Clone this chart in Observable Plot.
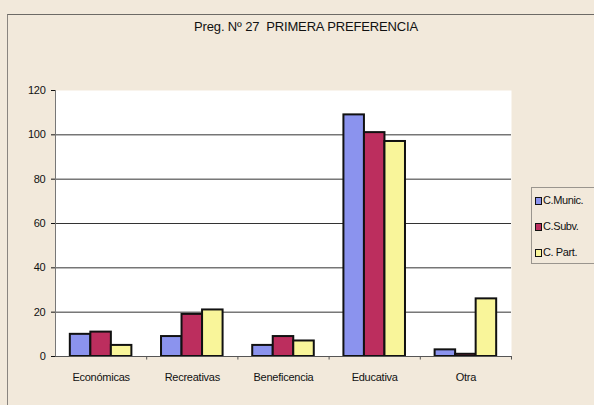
<!DOCTYPE html>
<html>
<head>
<meta charset="utf-8">
<script src="https://cdn.jsdelivr.net/npm/d3@7"></script>
<script src="https://cdn.jsdelivr.net/npm/@observablehq/plot@0.6"></script>
<style>
  html, body { margin: 0; padding: 0; background: #f2e9db; }
  #wrap { position: relative; width: 594px; height: 405px; overflow: hidden; background: #f2e9db; }
  #border { position: absolute; left: 7px; top: 14px; width: 600px; height: 400px; border-left: 1px solid #8a8580; border-top: 1px solid #6d6a66; }
  #title { position: absolute; left: 156px; width: 300px; top: 19px; text-align: center;
    font: 13px "Liberation Sans Narrow", "Liberation Sans", Arial, sans-serif; letter-spacing: -0.15px; color: #111; }
  #chart { position: absolute; left: 0; top: 0; }
  #legend { position: absolute; left: 531px; top: 187px; width: 70px; height: 75px; border: 1px solid #9a958e;
    font: 11px "Liberation Sans Narrow", "Liberation Sans", Arial, sans-serif; letter-spacing: -0.4px; color: #111; }
  .item { position: absolute; left: 3px; height: 12px; line-height: 12px; white-space: nowrap; }
  .sw { display: inline-block; width: 5px; height: 6px; border: 1.5px solid #111; vertical-align: -1px; margin-right: 1px; }
  svg text { font-family: "Liberation Sans Narrow", "Liberation Sans", Arial, sans-serif; letter-spacing: -0.25px; fill: #111; }
</style>
</head>
<body>
<div id="wrap">
  <div id="border"></div>
  <div id="chart"></div>
  <div id="title">Preg. Nº 27&nbsp; PRIMERA PREFERENCIA</div>
  <div id="legend"></div>
</div>
<script>
const categories = ["Económicas", "Recreativas", "Beneficencia", "Educativa", "Otra"];
const series = ["C.Munic.", "C.Subv.", "C. Part."];
const municValues = [10, 9, 5, 109, 3];
const subvValues = [11, 19, 9, 101, 1];
const partValues = [5, 21, 7, 97, 26];
const yTicks = [0, 20, 40, 60, 80, 100, 120];
const colors = ["#8b93ee", "#bc2e5e", "#f9f59a"];

const valuesBySeries = [municValues, subvValues, partValues];
const rows = [];
categories.forEach((c, i) => {
  series.forEach((s, j) => rows.push({cat: c, i, s, j, value: valuesBySeries[j][i]}));
});

const barW = 0.225;
const start = 0.5 - 1.5 * barW;
const bounds = d3.range(categories.length + 1);
const centers = categories.map((c, i) => i + 0.5);

const plot = Plot.plot({
  width: 594,
  height: 405,
  marginLeft: 55,
  marginRight: 83,
  marginTop: 90,
  marginBottom: 49,
  style: {background: "transparent", fontSize: "11px", color: "#111"},
  x: {domain: [0, categories.length], ticks: centers, tickFormat: (v) => categories[Math.floor(v)], tickSize: 0, tickPadding: 17, label: null},
  y: {domain: [0, 120], ticks: yTicks, tickSize: 4, tickPadding: 6, label: null},
  color: {domain: series, range: colors},
  marks: [
    Plot.frame({fill: "white", stroke: "none"}),
    Plot.ruleY(yTicks.filter(t => t > 0 && t < 120), {stroke: "#333", strokeWidth: 1}),
    Plot.rectY(rows, {
      x1: d => d.i + start + d.j * barW,
      x2: d => d.i + start + (d.j + 1) * barW,
      y1: 0,
      y2: "value",
      fill: "s",
      stroke: "#111",
      strokeWidth: 2
    }),
    Plot.ruleY([0], {stroke: "#555", strokeWidth: 1.2}),
    Plot.ruleX([0], {y1: 0, y2: 120, stroke: "#777", strokeWidth: 1}),
    Plot.ruleX(bounds.slice(1), {y1: 0, y2: -1.6, stroke: "#555", strokeWidth: 1})
  ]
});
document.getElementById("chart").appendChild(plot);

const legend = document.getElementById("legend");
series.forEach((s, j) => {
  const it = document.createElement("div");
  it.className = "item";
  it.style.top = (6 + j * 26) + "px";
  const sw = document.createElement("span");
  sw.className = "sw";
  sw.style.background = colors[j];
  it.appendChild(sw);
  it.appendChild(document.createTextNode(s));
  legend.appendChild(it);
});
</script>
</body>
</html>
